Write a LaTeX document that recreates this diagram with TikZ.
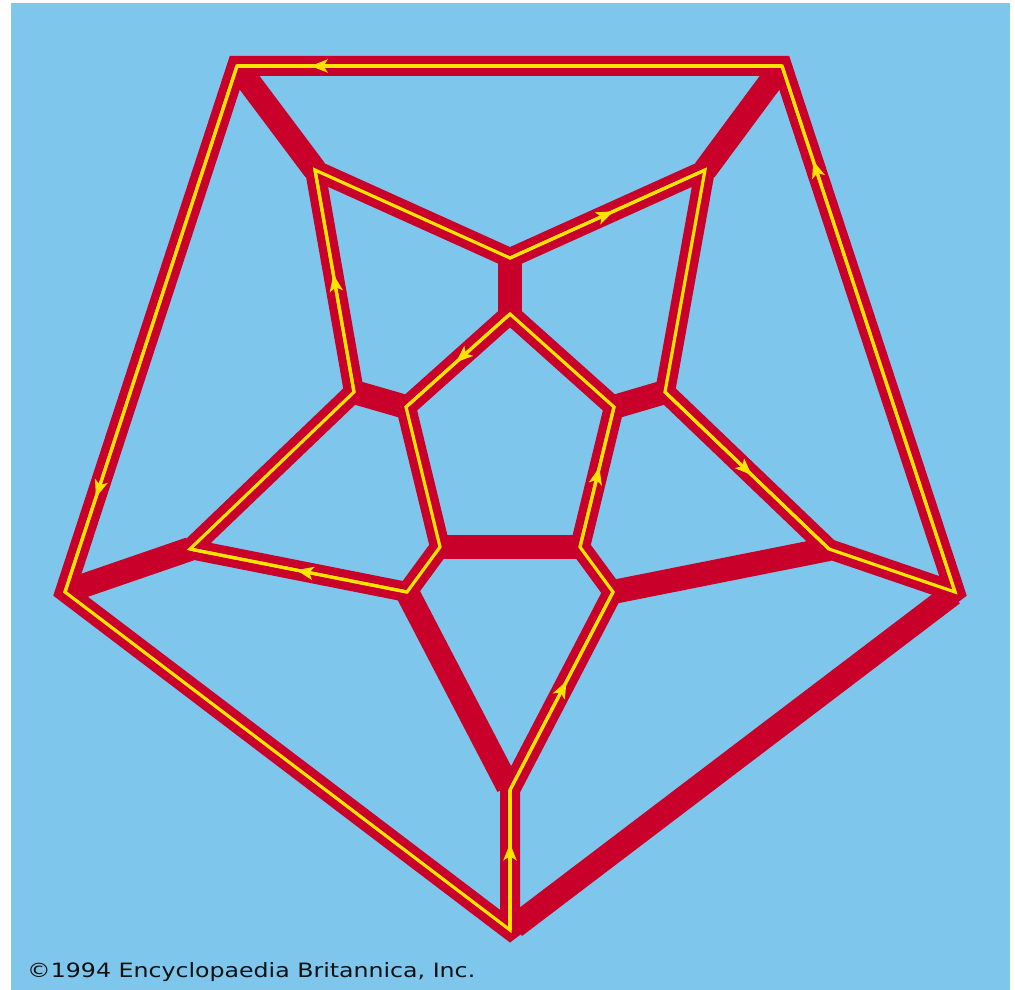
\documentclass[tikz,border=0pt]{standalone}
\usepackage{graphicx}
\usepackage{fontspec}
\setmainfont{DejaVu Sans}
\usetikzlibrary{arrows.meta,decorations.markings}
\definecolor{bg}{HTML}{7FC6EC}
\definecolor{edgered}{HTML}{C8002A}
\definecolor{pathyellow}{HTML}{FFE400}
\definecolor{txt}{HTML}{111111}
\begin{document}
\begin{tikzpicture}[x=1pt,y=-1pt,
  cyclered/.style={draw=edgered,line width=20pt,line join=miter},
  thickred/.style={draw=edgered,line width=24pt,line cap=butt},
  yline/.style={draw=pathyellow,line width=3.2pt,line join=miter},
  arrowat/.style={yline,postaction={decorate},
    decoration={markings,mark=at position #1 with {\arrow[pathyellow]{Stealth[length=17pt,width=13pt,inset=4pt]}}}}
]
\useasboundingbox (0,0) rectangle (1015,990);
\fill[white] (0,0) rectangle (1015,990);
\fill[bg] (11,3) rectangle (1010,990);
% vertices
\coordinate (O1) at (237,66);
\coordinate (O2) at (782,66);
\coordinate (O3) at (955,592);
\coordinate (O4) at (510,930);
\coordinate (O5) at (65,592);
\coordinate (M1) at (315,170);
\coordinate (M2) at (510,258);
\coordinate (M3) at (705,170);
\coordinate (M4) at (665,392);
\coordinate (M5) at (829,549);
\coordinate (M6) at (613,592);
\coordinate (M7) at (510,790);
\coordinate (M8) at (407,592);
\coordinate (M9) at (190,549);
\coordinate (M10) at (354,392);
\coordinate (I1) at (510,314);
\coordinate (I2) at (614,407);
\coordinate (I3) at (580,547);
\coordinate (I4) at (440,547);
\coordinate (I5) at (406,407);
% red edges
\draw[cyclered] (O1) -- (O2) -- (O3) -- (O4) -- (O5) -- cycle;
\draw[cyclered] (O4) -- (M7) -- (M6) -- (I3) -- (I2) -- (I1) -- (I5) -- (I4) -- (M8) -- (M9) -- (M10) -- (M1) -- (M2) -- (M3) -- (M4) -- (M5) -- (O3);
\draw[thickred,shorten <=3pt] (O1) -- (M1);
\draw[thickred,shorten <=3pt] (O2) -- (M3);
\draw[thickred,shorten >=6pt,shorten <=3pt] (O3) -- (O4);
\draw[thickred,shorten <=3pt] (O5) -- (M9);
\draw[thickred] (M2) -- (I1);
\draw[thickred] (M4) -- (I2);
\draw[thickred] (M10) -- (I5);
\draw[thickred] (I3) -- (I4);
\draw[thickred,shorten >=4pt] (M8) -- (M7);
\draw[thickred] (M6) -- (M5);
% Hamiltonian cycle
\draw[yline] (O2) -- (O1) -- (O5) -- (O4) -- (M7) -- (M6) -- (I3) -- (I2) -- (I1) -- (I5) -- (I4) -- (M8) -- (M9) -- (M10) -- (M1) -- (M2) -- (M3) -- (M4) -- (M5) -- (O3) -- cycle;
\draw[arrowat=0.865] (O2) -- (O1);
\draw[arrowat=0.82] (O1) -- (O5);
\draw[arrowat=0.62] (O4) -- (M7);
\draw[arrowat=0.55] (M7) -- (M6);
\draw[arrowat=0.57] (I3) -- (I2);
\draw[arrowat=0.52] (I1) -- (I5);
\draw[arrowat=0.51] (M8) -- (M9);
\draw[arrowat=0.53] (M10) -- (M1);
\draw[arrowat=0.53] (M2) -- (M3);
\draw[arrowat=0.53] (M4) -- (M5);
\draw[arrowat=0.82] (O3) -- (O2);
% credit
\node[anchor=base west,inner sep=0pt,text=txt] (credit) at (27,977) {\resizebox{448pt}{15pt}{©1994 Encyclopaedia Britannica, Inc.}};
\end{tikzpicture}
\end{document}
